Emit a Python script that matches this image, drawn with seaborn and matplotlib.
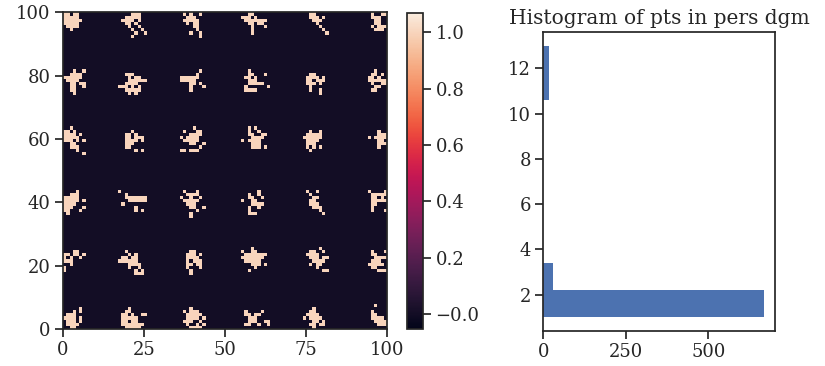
import numpy as np
import seaborn as sns
import matplotlib
matplotlib.use("Agg")
import matplotlib.pyplot as plt

sns.set_theme(style="ticks")
plt.rcParams["font.family"] = ["DejaVu Serif", "Liberation Serif"]
plt.rcParams["font.size"] = 13
plt.rcParams["xtick.labelsize"] = 13
plt.rcParams["ytick.labelsize"] = 13
plt.rcParams["axes.titlesize"] = 14.5

# 100x100 binary picture, row 0 = top of the picture.
# each blob: top row, left column, mask ("#" = 1)
blob_rows = [0, 0, 0, 0, 0, 0,
             18, 19, 18, 18, 19, 18,
             36, 37, 36, 36, 37, 37,
             56, 56, 56, 56, 56, 56,
             75, 75, 75, 74, 74, 75,
             93, 93, 93, 94, 93, 92]
blob_cols = [0, 18, 37, 55, 76, 95,
             0, 17, 36, 56, 75, 94,
             0, 19, 36, 55, 74, 94,
             0, 17, 36, 55, 75, 94,
             0, 17, 38, 55, 75, 94,
             0, 18, 37, 56, 74, 95]
blob_masks = [
    ["##.##.", "#####.", "######", "#####.", ".####.", "..#..."],
    ["...###..", ".#####..", "####.#..", ".##.#...", "..#..#..", "...#..#.", "....#..#", "...#...."],
    ["#.#..#", ".###..", "#####.", ".#.##.", "...##.", "....#.", "..#..#", ".....#"],
    ["..##....", "###.#...", ".#######", "..##.##.", "...#...#", "...#....", "...#...."],
    ["##....", "###.#.", ".###..", "..#...", "...#..", "....#.", ".....#"],
    ["#..##", "###..", ".##..", ".##..", "#.###", ".###."],

    ["...#..#", "..####.", "######.", ".####..", "..##.##", "..##..#", "..##...", "...#..."],
    ["..###....", "...#.##..", "...######", "..####...", "###.#.#..", "..#####..", "...#.#..."],
    ["......#.", ".....#..", "######..", "#####...", "...##.#.", "...#...#", "...#...."],
    [".#......", ".##...#.", "##.#....", ".###....", ".#####..", "#......#", "####...."],
    [".##....", "####.#.", "##.###.", "###.#..", ".#.....", ".#..#..", "....#.."],
    ["..#...", ".##.#.", "##.#..", "######", ".#..##", "..##..", ".##..."],

    ["..#....", "##.#...", "####.#.", "#####..", "###.#.#", "..##...", "..###..", "....#..", "......#"],
    ["..#...", "##.#..", "##.###", "####.#", "###...", "##....", "...#.#"],
    ["....#...", ".#...##.", "...####.", "#.####..", ".#####..", "...##..#", "......#.", "##.###.."],
    ["..#.#...", "..#..#..", "..##..##", "...####.", "#.####..", "...###..", "...###.#"],
    ["..#..#", ".#####", "######", ".####.", ".###..", ".#.#.#", "..#..."],
    ["...#..", "...###", "#.####", "...##.", "...###", "...#.."],

    ["....#..", "..###..", "#####..", "#####.#", "####...", "###...#", "##...#.", ".#....."],
    ["#........", "..#......", "..#######", "...######", ".#.......", ".....#...", ".....#.#."],
    [".#...#..", "..####..", "#..#..#.", ".#####..", "..###...", "...##..#", ".....#..", "...#....", "...#...."],
    [".....#..", "..#..#..", "..##..#.", "#..##...", "...####.", "..#..#..", "..#.....", "..###..."],
    ["#..#..", ".#....", "..##..", ".##...", ".###..", "..###.", "....#.", ".....#"],
    ["#....#", ".#####", ".##.#.", ".#####", ".##...", ".#....", ".#...#"],

    ["...##..", "##.##.#", "#.#..#.", "###....", "..#....", "#......", "#......"],
    ["..#.....", "...#.#..", ".##.##..", "######..", "...####.", "...#..#.", ".....#.#", ".....###"],
    [".##..", "###.#", "####.", "#.###", "##.##", "#...#", ".#...", ".#..."],
    ["...#....", "#..##...", ".#######", "#######.", ".#####..", "...###.#", "....#...", "..#....."],
    ["....#..", ".##..#.", "####...", ".###.##", "..####.", ".#.##..", "...#...", ".....##"],
    [".#...#", ".##...", "..####", ".###..", "#####.", ".##...", "...###"],

    [".....#", "...#.#", ".###..", "####.#", ".###.#", ".####.", "..##.."],
    ["..#.....", ".##.....", "##.#..##", "#####...", "##.##...", "#######.", ".#####.."],
    ["..#....", "#.###..", ".#####.", ".####.#", "###..#.", ".#..#.#", "..####."],
    ["#....#..", "##.##...", ".###....", ".###..##", "##..#..#"],
    ["...#...", "..##...", ".####..", "#.####.", "...##.#", "..##.##", "...#..."],
    [".#...", ".....", "#....", "##...", "####.", ".####", "..###"],
]

# histogram of points in the persistence diagram
hist_edges = [1.0, 2.2, 3.4, 4.6, 5.8, 7.0, 8.2, 9.4, 10.6, 11.8, 13.0]
hist_counts = [669, 28, 0, 0, 0, 0, 0, 0, 17, 17]

img = np.zeros((100, 100))
for r0, c0, mask in zip(blob_rows, blob_cols, blob_masks):
    for i, line in enumerate(mask):
        for j, ch in enumerate(line):
            if ch == "#" and r0 + i < 100 and c0 + j < 100:
                img[r0 + i, c0 + j] = 1.0

fig = plt.figure(figsize=(8.25, 3.66), dpi=100)
ax = fig.add_axes([0.0764, 0.1011, 0.3927, 0.8648])
cax = fig.add_axes([0.4933, 0.1002, 0.0194, 0.8634])
ax2 = fig.add_axes([0.6586, 0.0964, 0.2808, 0.8153])

# left: picture
sns.heatmap(np.flipud(img), ax=ax, cbar_ax=cax, cmap="rocket",
            vmin=-0.055, vmax=1.068, xticklabels=False, yticklabels=False)
ax.invert_yaxis()
ax.set_xticks([0, 25, 50, 75, 100])
ax.set_xticklabels(["0", "25", "50", "75", "100"])
ax.set_yticks([0, 20, 40, 60, 80, 100])
ax.set_yticklabels(["0", "20", "40", "60", "80", "100"], rotation=0)
for s in ax.spines.values():
    s.set_visible(True)
    s.set_color(".15")
    s.set_linewidth(1.25)
ax.tick_params(length=5.5, width=1.25, color=".15")

cb = ax.collections[0].colorbar
cb.set_ticks([0, 0.2, 0.4, 0.6, 0.8, 1.0])
cb.set_ticklabels(["\u22120.0", "0.2", "0.4", "0.6", "0.8", "1.0"])
cb.outline.set_visible(True)
cb.outline.set_linewidth(1.25)
cb.outline.set_edgecolor(".15")
cax.tick_params(length=5.5, width=1.25, color=".15")

# right: histogram
centers = [(a + b) / 2 for a, b in zip(hist_edges[:-1], hist_edges[1:])]
sns.histplot(y=centers, weights=hist_counts, bins=hist_edges, ax=ax2,
             color="#4C72B0", alpha=1, linewidth=0)
ax2.set_xlabel("")
ax2.set_ylabel("")
ax2.set_xticks([0, 250, 500])
ax2.set_yticks([2, 4, 6, 8, 10, 12])
ax2.set_title("Histogram of pts in pers dgm")
for s in ax2.spines.values():
    s.set_color(".15")
    s.set_linewidth(1.25)
ax2.tick_params(length=5.5, width=1.25, color=".15")

fig.savefig("out.png", dpi=100)
